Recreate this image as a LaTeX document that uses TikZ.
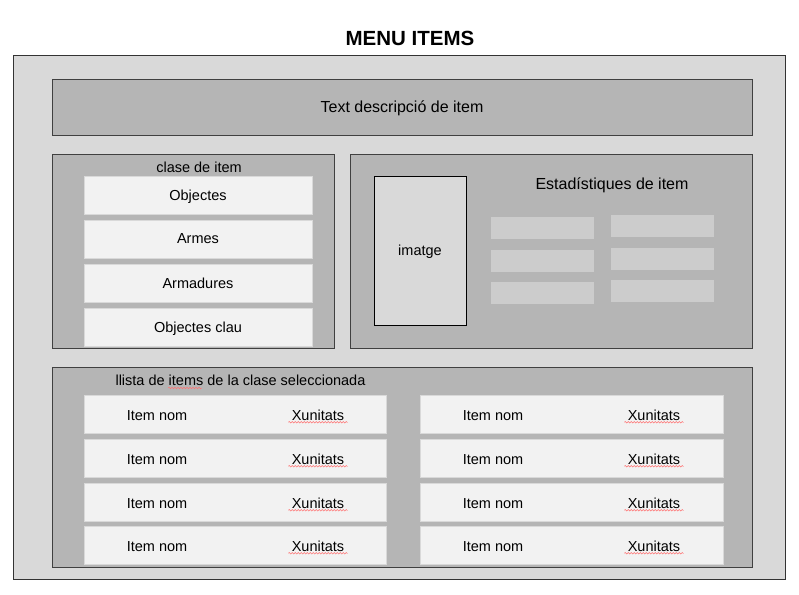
\documentclass[tikz,border=0pt]{standalone}
\usepackage{fontspec}
\setmainfont{Liberation Sans}
\usetikzlibrary{positioning,decorations.pathmorphing}
\definecolor{framegray}{HTML}{D9D9D9}
\definecolor{panelgray}{HTML}{B5B5B5}
\definecolor{rowgray}{HTML}{F2F2F2}
\definecolor{statgray}{HTML}{CCCCCC}

\begin{document}
\begin{tikzpicture}[x=1pt,y=-1pt,font=\fontsize{14.5}{17}\selectfont,
  every node/.append style={text depth=0pt},
  frame/.style={draw=black!80,fill=framegray,line width=0.8pt,inner sep=0pt},
  panel/.style={draw=black!75,fill=panelgray,line width=0.8pt,inner sep=0pt},
  rowbox/.style={draw=black!15,fill=rowgray,line width=0.6pt,inner sep=0pt,minimum height=38pt},
  statbox/.style={fill=statgray,inner sep=0pt,minimum width=103pt,minimum height=22pt},
  bigtext/.style={font=\fontsize{16}{19}\selectfont},
  squiggle/.style={draw=red!55,line width=0.5pt,decorate,decoration={snake,segment length=3pt,amplitude=0.8pt}}]
\useasboundingbox (0,0) rectangle (799,594);
\node[font=\fontsize{20.5}{24}\selectfont\bfseries] (title) at (410,38) {MENU ITEMS};
\node[frame,minimum width=772pt,minimum height=524pt] (menu) at (399,317) {};
% descripcio
\node[panel,bigtext,minimum width=700pt,minimum height=56pt] (desc) at (402,107) {Text descripció de item};
% classes
\node[panel,minimum width=282pt,minimum height=194pt] (classes) at (193,251) {};
\node (classlbl) at (199,167) {clase de item};
\node[rowbox,minimum width=228pt] (obj) at (198,195) {Objectes};
\node[rowbox,minimum width=228pt] (arm) at (198,239) {Armes};
\node[rowbox,minimum width=228pt] (armd) at (198,283) {Armadures};
\node[rowbox,minimum width=228pt] (objc) at (198,327) {Objectes clau};
% estadistiques
\node[panel,minimum width=402pt,minimum height=194pt] (stats) at (551,251) {};
\node[draw=black,fill=framegray,line width=0.8pt,minimum width=92pt,minimum height=149pt] (img) at (420,250.5) {imatge};
\node[bigtext] (statlbl) at (612,184) {Estadístiques de item};
\foreach \y [count=\i] in {228,261,293}
  \node[statbox] (statA\i) at (542.5,\y) {};
\foreach \y [count=\i] in {226,259,291}
  \node[statbox] (statB\i) at (662.5,\y) {};
% llista
\node[panel,minimum width=700pt,minimum height=200pt] (list) at (402,467) {};
\node[anchor=west] (listlbl) at (112,380) {llista de items de la clase seleccionada};
\draw[squiggle] (168,388) -- (202,388);
\foreach \y [count=\i] in {414,458,502,545} {
  \node[rowbox,minimum width=302pt] (rowL\i) at (235,\y) {};
  \node (nomL\i) at (157,\y+1.5) {Item nom};
  \node (uniL\i) at (318,\y+1) {Xunitats};
  \draw[squiggle] ([yshift=1.5pt]uniL\i.south west) -- ([yshift=1.5pt]uniL\i.south east);
  \node[rowbox,minimum width=303pt] (rowR\i) at (571.5,\y) {};
  \node (nomR\i) at (493,\y+1.5) {Item nom};
  \node (uniR\i) at (654,\y+1) {Xunitats};
  \draw[squiggle] ([yshift=1.5pt]uniR\i.south west) -- ([yshift=1.5pt]uniR\i.south east);
}
\end{tikzpicture}
\end{document}
